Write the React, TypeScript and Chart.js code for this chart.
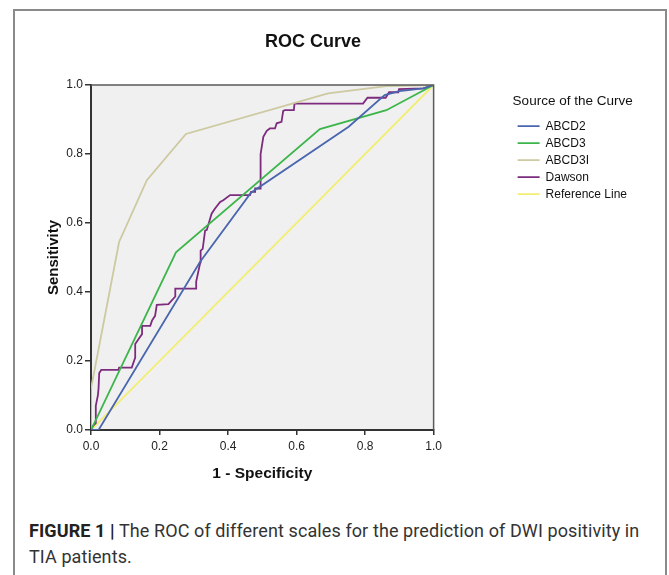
import React, { useEffect, useRef } from "react";
import { Chart, registerables } from "chart.js";

Chart.register(...registerables);

// ---- data ----
const seriesNames = ["ABCD2", "ABCD3", "ABCD3I", "Dawson", "Reference Line"];
const seriesColors = ["#4a66ae", "#3cb54b", "#cdc9a0", "#7c2b7e", "#f2ee72"];

const abcd2X = [0, 0.022, 0.318, 0.467, 0.752, 0.857, 0.9, 0.97, 1];
const abcd2Y = [0, 0, 0.487, 0.688, 0.879, 0.971, 0.982, 0.99, 1];

const abcd3X = [0, 0.248, 0.668, 0.862, 1];
const abcd3Y = [0, 0.515, 0.872, 0.927, 1];

const abcd3iX = [0, 0, 0.082, 0.163, 0.277, 0.692, 0.862, 1];
const abcd3iY = [0, 0.12, 0.545, 0.724, 0.858, 0.976, 0.997, 1];

const dawsonX = [
  0, 0.006, 0.014, 0.014, 0.017, 0.02, 0.022, 0.024, 0.03, 0.08, 0.082, 0.119,
  0.129, 0.129, 0.139, 0.149, 0.149, 0.173, 0.178, 0.187, 0.192, 0.226, 0.246,
  0.246, 0.307, 0.307, 0.319, 0.32, 0.326, 0.333, 0.338, 0.352, 0.362, 0.377,
  0.386, 0.406, 0.464, 0.467, 0.479, 0.479, 0.495, 0.495, 0.503, 0.513, 0.522,
  0.537, 0.542, 0.556, 0.561, 0.566, 0.592, 0.594, 0.794, 0.807, 0.86, 0.87,
  0.897, 0.899, 0.97, 1,
];
const dawsonY = [
  0, 0.012, 0.02, 0.07, 0.085, 0.1, 0.12, 0.165, 0.174, 0.174, 0.181, 0.181,
  0.21, 0.249, 0.264, 0.278, 0.302, 0.302, 0.317, 0.331, 0.363, 0.365, 0.387,
  0.41, 0.41, 0.43, 0.486, 0.52, 0.525, 0.578, 0.58, 0.627, 0.642, 0.661,
  0.666, 0.681, 0.681, 0.69, 0.69, 0.7, 0.7, 0.8, 0.85, 0.867, 0.874,
  0.874, 0.889, 0.893, 0.925, 0.927, 0.927, 0.946, 0.946, 0.963, 0.963, 0.979,
  0.979, 0.988, 0.99, 1,
];

const referenceX = [0, 1];
const referenceY = [0, 1];

const axisMin = 0;
const axisMax = 1;
const tickStep = 0.2;

const FONT = '"Liberation Sans", Arial, Helvetica, sans-serif';

const pts = (xs: number[], ys: number[]) => xs.map((x, i) => ({ x, y: ys[i] }));

const plotFrame = {
  id: "plotFrame",
  beforeDraw(chart: any) {
    const { ctx, chartArea: a } = chart;
    ctx.save();
    ctx.fillStyle = "#f0f0f0";
    ctx.fillRect(a.left, a.top, a.right - a.left, a.bottom - a.top);
    ctx.restore();
  },
  afterDraw(chart: any) {
    const { ctx, chartArea: a } = chart;
    ctx.save();
    ctx.strokeStyle = "#5a5a5a";
    ctx.lineWidth = 1.5;
    ctx.beginPath();
    ctx.moveTo(a.left, a.top);
    ctx.lineTo(a.right, a.top);
    ctx.lineTo(a.right, a.bottom);
    ctx.stroke();
    ctx.restore();
  },
};

export default function App() {
  const ref = useRef<HTMLCanvasElement | null>(null);

  useEffect(() => {
    if (!ref.current) return;
    const xs = [abcd2X, abcd3X, abcd3iX, dawsonX, referenceX];
    const ys = [abcd2Y, abcd3Y, abcd3iY, dawsonY, referenceY];
    const datasets = seriesNames.map((name, i) => ({
      label: name,
      data: pts(xs[i], ys[i]),
      showLine: true,
      borderColor: seriesColors[i],
      backgroundColor: seriesColors[i],
      borderWidth: 1.8,
      pointRadius: 0,
      pointHoverRadius: 0,
      tension: 0,
    }));

    const tickCommon = {
      font: { family: FONT, size: 12 },
      color: "#222",
      stepSize: tickStep,
      callback: (v: any) => Number(v).toFixed(1),
    };

    const chart = new Chart(ref.current, {
      type: "scatter",
      data: { datasets },
      plugins: [plotFrame],
      options: {
        responsive: false,
        animation: false,
        devicePixelRatio: 1,
        events: [],
        layout: { padding: { left: 0, right: 32, top: 0, bottom: 0 } },
        plugins: {
          tooltip: { enabled: false },
          title: {
            display: true,
            text: "ROC Curve",
            color: "#111",
            font: { family: FONT, size: 18, weight: "bold" },
            padding: { top: 31, bottom: 32.4 },
          },
          legend: {
            display: true,
            position: "right",
            align: "start",
            fullSize: false,
            title: {
              display: true,
              text: "Source of the Curve",
              position: "start",
              color: "#111",
              font: { family: FONT, size: 13.5 },
              padding: { top: 10, bottom: 4 },
            },
            labels: {
              usePointStyle: true,
              pointStyle: "line",
              pointStyleWidth: 22,
              color: "#111",
              font: { family: FONT, size: 12 },
              padding: 5,
            },
          },
        },
        scales: {
          x: {
            type: "linear",
            position: "bottom",
            min: axisMin,
            max: axisMax,
            ticks: { ...tickCommon, padding: 4, maxRotation: 0 },
            grid: {
              display: true,
              drawOnChartArea: false,
              drawTicks: true,
              tickLength: 5,
              color: "#333",
              lineWidth: 1.5,
            },
            border: { display: true, color: "#333", width: 2 },
            title: {
              display: true,
              text: "1 - Specificity",
              color: "#111",
              font: { family: FONT, size: 15.5, weight: "bold" },
              padding: { top: 0, bottom: 7 },
            },
            afterFit: (s: any) => {
              s.height = 60;
            },
          },
          y: {
            type: "linear",
            position: "left",
            min: axisMin,
            max: axisMax,
            ticks: { ...tickCommon, padding: 2 },
            grid: {
              display: true,
              drawOnChartArea: false,
              drawTicks: true,
              tickLength: 6,
              color: "#333",
              lineWidth: 1.5,
            },
            border: { display: true, color: "#333", width: 2 },
            title: {
              display: true,
              text: "Sensitivity",
              color: "#111",
              font: { family: FONT, size: 15, weight: "bold" },
              padding: { top: 56, bottom: 0 },
            },
            afterFit: (s: any) => {
              s.width = 102;
            },
          },
          // invisible spacer between the plot and the legend
          y2: {
            type: "linear",
            position: "right",
            display: false,
            min: axisMin,
            max: axisMax,
            afterFit: (s: any) => {
              s.width = 79;
            },
          },
        },
      } as any,
    });
    return () => chart.destroy();
  }, []);

  return (
    <div
      style={{
        position: "absolute",
        left: 0,
        top: 0,
        width: 669,
        height: 575,
        overflow: "hidden",
        background: "#fff",
      }}
    >
      <div
        style={{
          position: "absolute",
          left: 13,
          top: 9,
          width: 650,
          height: 620,
          border: "2px solid #8a8a8a",
        }}
      />
      <canvas
        ref={ref}
        width={680}
        height={490}
        style={{ position: "absolute", left: -11, top: 0, width: 680, height: 490 }}
      />
      <div
        style={{
          position: "absolute",
          left: 29,
          top: 518,
          width: 635,
          fontFamily: "Roboto, 'Liberation Sans', sans-serif",
          fontSize: 18,
          lineHeight: "26px",
          letterSpacing: "0.1px",
          color: "#333",
          whiteSpace: "nowrap",
        }}
      >
        <span style={{ fontWeight: 700, color: "#222" }}>FIGURE 1 |</span> The ROC of different scales for
        the prediction of DWI positivity in
        <br />
        TIA patients.
      </div>
    </div>
  );
}
